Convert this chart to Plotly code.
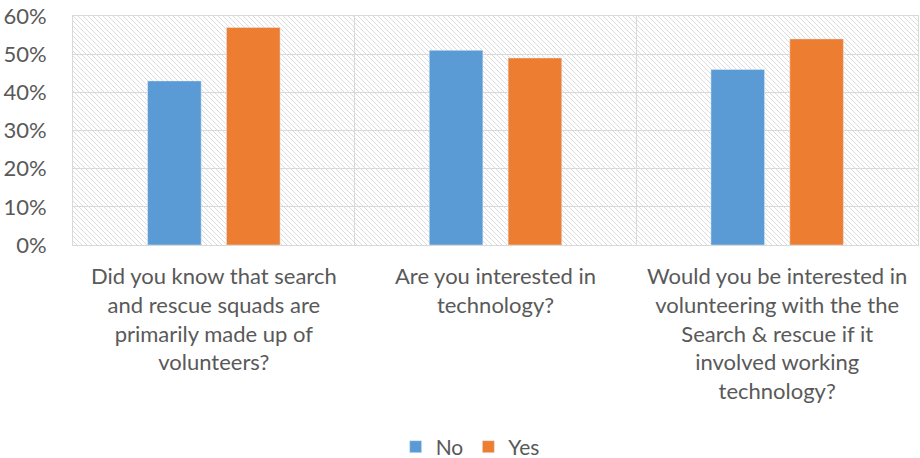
import base64
import plotly.graph_objects as go

categories = [
    "Did you know that search<br>and rescue squads are<br>primarily made up of<br>volunteers?",
    "Are you interested in<br>technology?",
    "Would you be interested in<br>volunteering with the the<br>Search &amp; rescue if it<br>involved working<br>technology?",
]
no_values = [0.43, 0.51, 0.46]
yes_values = [0.57, 0.49, 0.54]
series_names = ["No", "Yes"]
y_ticks = [0, 0.1, 0.2, 0.3, 0.4, 0.5, 0.6]
y_ticklabels = ["0%", "10%", "20%", "30%", "40%", "50%", "60%"]

BLUE = "#5B9BD5"
ORANGE = "#ED7D31"
TEXT = "#595959"
FONT = "Lato"

# diagonal hatch background for plot area
W, H = 845, 229
svg = (
    f'<svg xmlns="http://www.w3.org/2000/svg" width="{W}" height="{H}" viewBox="0 0 {W} {H}">'
    '<defs><pattern id="p" patternUnits="userSpaceOnUse" width="5" height="5">'
    '<path d="M-1,-1 L6,6 M-1,4 L1,6 M4,-1 L6,1" stroke="#dcdcdc" stroke-width="1"/>'
    '</pattern></defs>'
    f'<rect width="{W}" height="{H}" fill="url(#p)"/></svg>'
)
src = "data:image/svg+xml;base64," + base64.b64encode(svg.encode()).decode()

fig = go.Figure()
fig.add_trace(go.Bar(name=series_names[0], x=categories, y=no_values, marker_color=BLUE))
fig.add_trace(go.Bar(name=series_names[1], x=categories, y=yes_values, marker_color=ORANGE))

fig.update_layout(
    width=920,
    height=458,
    margin=dict(l=73, r=2, t=16, b=213),
    paper_bgcolor="white",
    plot_bgcolor="white",
    barmode="group",
    bargap=0.44,
    bargroupgap=0.32,
    font=dict(family=FONT, color=TEXT, size=20),
    images=[dict(source=src, xref="paper", yref="paper", x=0, y=1, sizex=1, sizey=1,
                 xanchor="left", yanchor="top", sizing="stretch", layer="below")],
    legend=dict(orientation="h", xref="paper", x=0.47, xanchor="center",
                yref="container", y=0.024, yanchor="middle",
                font=dict(size=21, color=TEXT), itemwidth=30, traceorder="normal"),
    xaxis=dict(
        automargin=False,
        showgrid=True, gridcolor="#d9d9d9", gridwidth=1, tickson="boundaries",
        ticks="", showline=True, linecolor="#d9d9d9", mirror=True,
        tickfont=dict(size=22, color=TEXT), ticklabelstandoff=12,
    ),
    yaxis=dict(
        automargin=False,
        range=[0, 0.6], tickvals=y_ticks, ticktext=y_ticklabels,
        showgrid=True, gridcolor="#d9d9d9", gridwidth=1, zeroline=False,
        showline=True, linecolor="#d9d9d9", mirror=True, ticks="",
        tickfont=dict(size=22, color=TEXT), ticklabelstandoff=21,
    ),
)

fig.write_html(
    "out.html",
    config={"displayModeBar": False},
    post_script="document.body.style.margin='0';document.body.style.overflow='hidden';",
)
